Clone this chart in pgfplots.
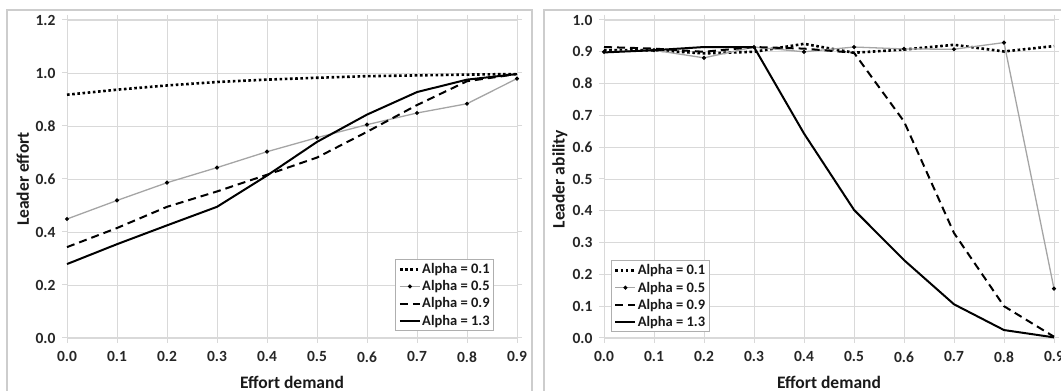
\documentclass[border=0pt]{standalone}
\usepackage{fontspec}
\setmainfont{Carlito}
\usepackage{pgfplots}
\usepackage{pgfplotstable}
\pgfplotsset{compat=1.18}

\definecolor{gridgray}{RGB}{217,217,217}
\definecolor{framegray}{RGB}{205,205,205}
\definecolor{sergray}{RGB}{165,165,165}
\definecolor{legframe}{RGB}{175,175,175}

\pgfplotstableread{
x    a01   a05   a09   a13
0.0  0.918 0.449 0.343 0.279
0.1  0.937 0.519 0.415 0.354
0.2  0.953 0.586 0.495 0.425
0.3  0.966 0.643 0.553 0.495
0.4  0.975 0.703 0.616 0.613
0.5  0.982 0.756 0.681 0.740
0.6  0.988 0.805 0.778 0.843
0.7  0.991 0.849 0.879 0.928
0.8  0.994 0.884 0.969 0.975
0.9  0.996 0.979 0.996 0.996
}\efforttable

\pgfplotstableread{
x    a01   a05   a09   a13
0.0  0.905 0.900 0.915 0.898
0.1  0.905 0.905 0.910 0.905
0.2  0.895 0.881 0.900 0.915
0.3  0.900 0.915 0.915 0.915
0.4  0.925 0.900 0.910 0.643
0.5  0.897 0.915 0.897 0.403
0.6  0.907 0.909 0.681 0.245
0.7  0.922 0.908 0.330 0.106
0.8  0.901 0.929 0.100 0.025
0.9  0.918 0.155 0.004 0.002
}\abilitytable

\pgfplotsset{
  myaxis/.style={
    scale only axis,
    width=450pt, height=318pt,
    xmin=0, xmax=0.9,
    xtick={0,0.1,0.2,0.3,0.4,0.5,0.6,0.7,0.8,0.9},
    grid=major,
    grid style={gridgray, line width=0.9pt},
    axis line style={gridgray, line width=1pt},
    tick style={gridgray, line width=1pt},
    tick align=outside,
    major tick length=5pt,
    ticklabel style={font=\bfseries\fontsize{15.5}{15.5}\selectfont, text=black!85},
    xticklabel style={yshift=-5pt},
    yticklabel style={xshift=-3pt},
    xlabel style={font=\bfseries\fontsize{17.5}{17.5}\selectfont, text=black!90,
      at={(axis description cs:0.5,-0.140)}, anchor=center},
    ylabel style={font=\bfseries\fontsize{17.5}{17.5}\selectfont, text=black!90,
      at={(axis description cs:-0.098,0.5)}, anchor=center},
    xticklabel={\pgfmathprintnumber[fixed,fixed zerofill,precision=1,assume math mode=true]{\tick}},
    yticklabel={\pgfmathprintnumber[fixed,fixed zerofill,precision=1,assume math mode=true]{\tick}},
    clip=false,
    legend cell align=left,
    legend style={draw=legframe, line width=0.8pt, fill=white,
      font=\bfseries\fontsize{14.5}{14.5}\selectfont,
      inner xsep=3pt, inner ysep=2pt, row sep=1.5pt,
      nodes={inner xsep=1pt, inner ysep=2pt, text=black!90}},
    legend image code/.code={\draw[mark repeat=2,mark phase=2] plot coordinates {(0pt,0pt) (10pt,0pt) (20pt,0pt)};},
  },
  s01/.style={black, line width=2.6pt, dash pattern=on 2.6pt off 2.6pt},
  s05/.style={sergray, line width=1.3pt, mark=*, mark size=1.3pt, mark options={black, fill=black, solid}},
  s09/.style={black, line width=2pt, dash pattern=on 8pt off 5pt},
  s13/.style={black, line width=2pt},
}

\begin{document}
\begin{tikzpicture}[x=1pt,y=1pt]
\useasboundingbox (0,0) rectangle (1061,391);
\draw[framegray, line width=1.5pt] (7,-20) -- (7,381) -- (532,381) -- (532,-20);
\draw[framegray, line width=1.5pt] (544,-20) -- (544,381) -- (1090,381);

\begin{axis}[myaxis, at={(67pt,53pt)}, anchor=south west,
  ymin=0, ymax=1.2, ytick={0,0.2,0.4,0.6,0.8,1.0,1.2},
  xlabel={Effort demand}, ylabel={Leader effort},
  legend style={at={(0.949,0.022)}, anchor=south east}]
\addplot[s01] table[x=x,y=a01] {\efforttable};
\addlegendentry{Alpha = 0.1}
\addplot[s05] table[x=x,y=a05] {\efforttable};
\addlegendentry{Alpha = 0.5}
\addplot[s09] table[x=x,y=a09] {\efforttable};
\addlegendentry{Alpha = 0.9}
\addplot[s13] table[x=x,y=a13] {\efforttable};
\addlegendentry{Alpha = 1.3}
\end{axis}

\begin{axis}[myaxis, at={(604pt,53pt)}, anchor=south west,
  ymin=0, ymax=1.0, ytick={0,0.1,0.2,0.3,0.4,0.5,0.6,0.7,0.8,0.9,1.0},
  xlabel={Effort demand}, ylabel={Leader ability},
  legend style={at={(0.015,0.018)}, anchor=south west}]
\addplot[s01] table[x=x,y=a01] {\abilitytable};
\addlegendentry{Alpha = 0.1}
\addplot[s05] table[x=x,y=a05] {\abilitytable};
\addlegendentry{Alpha = 0.5}
\addplot[s09] table[x=x,y=a09] {\abilitytable};
\addlegendentry{Alpha = 0.9}
\addplot[s13] table[x=x,y=a13] {\abilitytable};
\addlegendentry{Alpha = 1.3}
\end{axis}
\end{tikzpicture}
\end{document}
